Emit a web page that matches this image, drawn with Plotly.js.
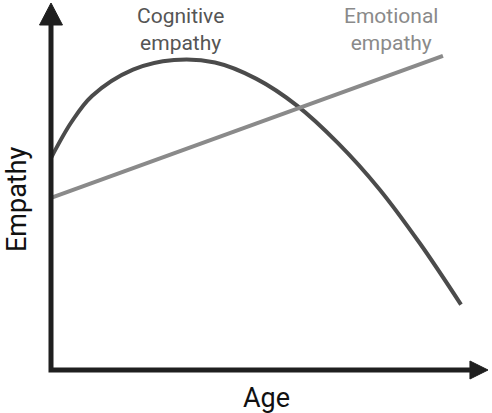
<!DOCTYPE html>
<html>
<head>
<meta charset="utf-8">
<script src="https://cdn.plot.ly/plotly-3.0.1.min.js"></script>
<style>html,body{margin:0;padding:0;background:#fff;}#chart{width:492px;height:413px;}</style>
</head>
<body>
<div id="chart"></div>
<script>
// Age positions (arbitrary units, 0 = origin of the axes)
const cognitiveAge = [0, 5, 10, 20, 30, 40, 50, 60, 70, 80, 90, 100];
const cognitiveEmpathy = [68.4, 80.0, 88.4, 96.9, 100, 99.2, 94.0, 85.3, 73.2, 58.5, 40.8, 21.1];
const emotionalAge = [0, 95.6];
const emotionalEmpathy = [55.5, 101.3];
const labels = {cognitive: "Cognitive<br>empathy", emotional: "Emotional<br>empathy", x: "Age", y: "Empathy"};

const xMin = -16 / 4.1, xMax = 437 / 4.1;
const yMin = -13 / 3.1, yMax = 367 / 3.1;
const axisColor = "#1f1f1f";

const traces = [
  {x: cognitiveAge, y: cognitiveEmpathy, mode: "lines", line: {color: "#4b4b4b", width: 4, shape: "spline", smoothing: 1}, cliponaxis: false, hoverinfo: "skip"},
  {x: emotionalAge, y: emotionalEmpathy, mode: "lines", line: {color: "#8a8a8a", width: 4}, cliponaxis: false, hoverinfo: "skip"}
];

const layout = {
  width: 492, height: 413,
  margin: {l: 35, r: 4, t: 3, b: 30},
  paper_bgcolor: "#fff", plot_bgcolor: "#fff",
  showlegend: false,
  xaxis: {range: [xMin, xMax], showgrid: false, zeroline: false, showticklabels: false, ticks: "", showline: false},
  yaxis: {range: [yMin, yMax], showgrid: false, zeroline: false, showticklabels: false, ticks: "", showline: false},
  shapes: [
    {type: "path", xref: "x", yref: "y", path: `M 0,${yMax - 7} L 0,0 L ${xMax - 4.4},0`, line: {color: axisColor, width: 5}},
    {type: "path", xref: "x", yref: "y", path: `M ${xMax},0 L ${xMax - 4.4},2.9 L ${xMax - 4.4},-2.9 Z`, fillcolor: axisColor, line: {color: axisColor, width: 1}},
    {type: "path", xref: "x", yref: "y", path: `M 0,${yMax} L -2.8,${yMax - 7.1} L 2.8,${yMax - 7.1} Z`, fillcolor: axisColor, line: {color: axisColor, width: 1}}
  ],
  annotations: [
    {text: labels.cognitive, x: 0.3205, y: 1, yshift: 1, xref: "paper", yref: "paper", xanchor: "center", yanchor: "top", showarrow: false,
      font: {family: "Roboto", size: 21, color: "#555555"}},
    {text: labels.emotional, x: 0.7857, y: 1, yshift: 1, xref: "paper", yref: "paper", xanchor: "center", yanchor: "top", showarrow: false,
      font: {family: "Roboto", size: 21, color: "#8a8a8a"}},
    {text: labels.x, x: 0.5121, y: 0, yshift: -15, xref: "paper", yref: "paper", xanchor: "center", yanchor: "middle", showarrow: false,
      font: {family: "Roboto", size: 27, color: "#111111"}},
    {text: labels.y, x: 0, xshift: -18, y: 0.4842, xref: "paper", yref: "paper", xanchor: "center", yanchor: "middle", textangle: -90, showarrow: false,
      font: {family: "Roboto", size: 27, color: "#111111"}}
  ]
};

Plotly.newPlot("chart", traces, layout, {staticPlot: true, displayModeBar: false});
</script>
</body>
</html>
